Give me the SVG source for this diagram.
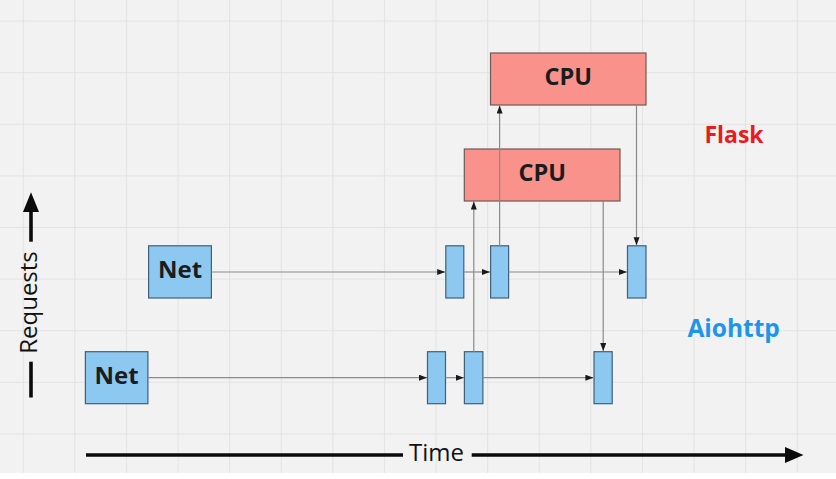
<svg xmlns="http://www.w3.org/2000/svg" width="836" height="479" viewBox="0 0 836 479">
  <defs>
    <pattern id="grid" patternUnits="userSpaceOnUse" x="22.7" y="20.6" width="51.6" height="51.6">
      <path d="M0.5,0 V51.6 M0,0.5 H51.6" fill="none" stroke="#e3e3e3" stroke-width="1.2"/>
    </pattern>
    <marker id="ah" markerUnits="userSpaceOnUse" markerWidth="9" markerHeight="7" refX="8" refY="3" orient="auto">
      <path d="M0,0 L8,3 L0,6 z" fill="#1a1a1a"/>
    </marker>
  </defs>
  <style>
    .cpu rect { fill: #f8928a; stroke: #6e5a58; stroke-width: 1.2; }
    .blue rect { fill: #8cc8f0; stroke: #3f5f7a; stroke-width: 1.2; }
    .lbl { font-family: "Open Sans", "DejaVu Sans", sans-serif; font-weight: bold; fill: #1c1c1c; text-anchor: middle; }
    .conn { stroke: #8a8a8a; stroke-width: 1.2; fill: none; marker-end: url(#ah); }
    .axis { stroke: #0a0a0a; stroke-width: 3.6; fill: none; }
    .axtxt { font-family: "Open Sans", "DejaVu Sans", sans-serif; font-size: 24px; fill: #111; text-anchor: middle; }
  </style>
  <rect x="0" y="0" width="836" height="479" fill="#ffffff"/>
  <rect x="0" y="0" width="836" height="473" fill="#f2f2f2"/>
  <rect x="0" y="0" width="836" height="473" fill="url(#grid)"/>

  <g id="cpu1" class="cpu">
    <rect x="490.5" y="53" width="155.5" height="52"/>
    <text class="lbl" x="568.3" y="85" font-size="23.5">CPU</text>
  </g>
  <g id="cpu2" class="cpu">
    <rect x="464.3" y="149" width="155.7" height="52"/>
    <text class="lbl" x="542.2" y="181" font-size="23.5">CPU</text>
  </g>

  <g id="net1" class="blue">
    <rect x="148.6" y="245.8" width="62.8" height="52.2"/>
    <text class="lbl" x="180" y="278.3" font-size="24">Net</text>
  </g>
  <g id="r1a" class="blue"><rect x="445.8" y="245.8" width="18" height="52.2"/></g>
  <g id="r1b" class="blue"><rect x="490.6" y="245.8" width="18" height="52.2"/></g>
  <g id="r1c" class="blue"><rect x="627.5" y="245.8" width="18.5" height="52.2"/></g>

  <g id="net2" class="blue">
    <rect x="85.4" y="351.7" width="62.5" height="52"/>
    <text class="lbl" x="116.6" y="384" font-size="24">Net</text>
  </g>
  <g id="r2a" class="blue"><rect x="427.5" y="351.7" width="18" height="52"/></g>
  <g id="r2b" class="blue"><rect x="464.4" y="351.7" width="18.5" height="52"/></g>
  <g id="r2c" class="blue"><rect x="594" y="351.7" width="18.2" height="52"/></g>

  <g id="connectors">
    <line class="conn" x1="211.4" y1="272" x2="445.2" y2="272"/>
    <line class="conn" x1="463.8" y1="272" x2="490" y2="272"/>
    <line class="conn" x1="508.6" y1="272" x2="627" y2="272"/>
    <line class="conn" x1="147.9" y1="377.7" x2="427" y2="377.7"/>
    <line class="conn" x1="445.5" y1="377.7" x2="463.8" y2="377.7"/>
    <line class="conn" x1="482.9" y1="377.7" x2="593.4" y2="377.7"/>
    <line class="conn" x1="499.6" y1="245.8" x2="499.6" y2="105.6"/>
    <line class="conn" x1="636.5" y1="105" x2="636.5" y2="245.2"/>
    <line class="conn" x1="473.8" y1="351.7" x2="473.8" y2="201.6"/>
    <line class="conn" x1="603.2" y1="201" x2="603.2" y2="351.1"/>
  </g>

  <g id="flask">
    <text x="734" y="143.3" font-family="'Open Sans', 'DejaVu Sans', sans-serif" font-weight="bold" font-size="23" fill="#e81b1f" text-anchor="middle">Flask</text>
  </g>
  <g id="aiohttp">
    <text x="733.6" y="336.7" font-family="'Open Sans', 'DejaVu Sans', sans-serif" font-weight="bold" font-size="24.5" fill="#1f95ea" text-anchor="middle">Aiohttp</text>
  </g>

  <g id="time-axis">
    <line class="axis" x1="86" y1="455" x2="403" y2="455"/>
    <line class="axis" x1="471.7" y1="455" x2="788" y2="455"/>
    <polygon points="785,447 803.5,455 785,463" fill="#0a0a0a"/>
    <text class="axtxt" x="436.5" y="461">Time</text>
  </g>
  <g id="requests-axis">
    <line class="axis" x1="31" y1="397.5" x2="31" y2="361.7"/>
    <line class="axis" x1="31" y1="241.7" x2="31" y2="209"/>
    <polygon points="23,212 31,192.3 39,212" fill="#0a0a0a"/>
    <text class="axtxt" transform="translate(36.5,302.5) rotate(-90)" x="0" y="0">Requests</text>
  </g>
</svg>
